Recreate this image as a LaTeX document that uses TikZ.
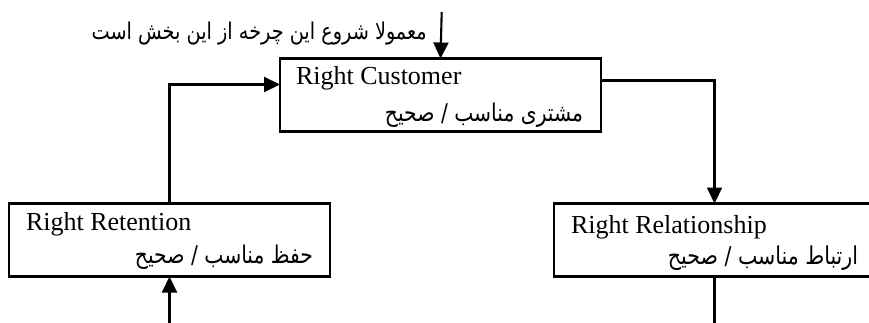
\documentclass[tikz,border=0pt]{standalone}
\usepackage{fontspec}
\setmainfont{Liberation Serif}
\newfontfamily\arabicfont[Script=Arabic]{DejaVu Sans}
\TeXXeTstate=1
\usetikzlibrary{arrows.meta}
\newcommand{\fatext}[2]{\scalebox{1}[1.2]{\resizebox{#1}{!}{\arabicfont #2}}}
\tikzset{
  box/.style={draw, line width=2.1pt, minimum width=321pt, minimum height=73pt, inner sep=0pt, outer sep=0pt},
  en/.style={inner sep=0pt, outer sep=0pt, font=\fontsize{26}{30}\selectfont},
  fa/.style={inner sep=0pt, outer sep=0pt},
  conn/.style={line width=2.1pt},
  arr/.style={conn, -{Triangle[width=15pt,length=16pt]}}
}
\begin{document}
\begin{tikzpicture}[x=1pt,y=-1pt]
\clip (0,0) rectangle (869,323);
\fill[white] (0,0) rectangle (869,323);
% boxes
\node[box] (cust) at (440.5,95) {};
\node[box] (ret) at (169.5,240) {};
\node[box] (rel) at (714.5,240) {};
% texts
\node[en, anchor=base west] (custen) at ([xshift=16pt,yshift=-26pt]cust.north west) {Right Customer};
\node[fa, anchor=base east] (custfa) at ([xshift=-18pt,yshift=-63pt]cust.north east) {\fatext{198pt}{\beginR مشتری مناسب / صحیح\endR}};
\node[en, anchor=base west] (reten) at ([xshift=17pt,yshift=-27pt]ret.north west) {Right Retention};
\node[fa, anchor=base east] (retfa) at ([xshift=-17pt,yshift=-60pt]ret.north east) {\fatext{178pt}{\beginR حفظ مناسب / صحیح\endR}};
\node[en, anchor=base west] (relen) at ([xshift=17pt,yshift=-30pt]rel.north west) {Right Relationship};
\node[fa, anchor=base east] (relfa) at ([xshift=-17pt,yshift=-61pt]rel.north east) {\fatext{190pt}{\beginR ارتباط مناسب / صحیح\endR}};
% start
\coordinate (start) at (441.7,12);
\node[fa, anchor=base east] (startfa) at ([xshift=-15pt,yshift=-28pt]start) {\fatext{335pt}{\beginR معمولا شروع این چرخه از این بخش است\endR}};
\coordinate (retin) at (169.5,340);
\coordinate (relout) at (714.5,340);
% connectors
\draw[arr] (start) -- (cust.north);
\draw[arr] ([yshift=-22pt]cust.north east) -| (rel.north);
\draw[arr] (ret.north) |- ([yshift=-26pt]cust.north west);
\draw[arr] (retin) -- (ret.south);
\draw[conn] (rel.south) -- (relout);
\end{tikzpicture}
\end{document}
